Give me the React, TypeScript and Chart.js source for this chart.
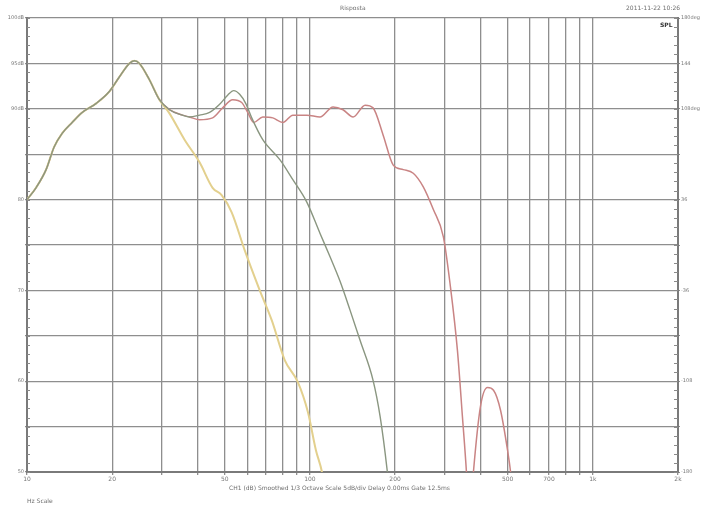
import React, { useEffect, useRef } from "react";
import { Chart, registerables } from "chart.js";

Chart.register(...registerables);

// Shared low-frequency part of all three responses
const lowFreq = [10.0, 10.76, 11.68, 12.47, 13.31, 14.44, 15.67, 17.57, 19.54, 21.2, 23.0, 23.96, 24.96, 27.08, 29.38];
const lowDb = [80.0, 81.3, 83.3, 85.8, 87.3, 88.5, 89.6, 90.6, 91.9, 93.5, 95.0, 95.3, 95.0, 93.2, 91.0];

// Yellow response (lowest cut-off)
const yellowFreq = [31.88, 36.05, 40.74, 45.29, 48.75, 52.9, 58.84, 66.48, 73.33, 81.53, 90.66, 98.37, 105.0, 110.3, 113.0];
const yellowDb = [89.5, 86.6, 84.1, 81.3, 80.5, 78.6, 74.4, 70.0, 66.7, 62.3, 59.9, 56.6, 52.4, 50.0, 48.0];

// Part shared by green and red
const midFreq = [31.88, 35.45, 37.54];
const midDb = [89.9, 89.3, 89.1];

// Green response
const greenFreq = [40.74, 44.2, 47.97, 51.2, 53.78, 56.46, 59.29, 62.27, 68.13, 78.29, 87.03, 97.59, 108.5, 117.8, 127.8, 138.7, 150.4, 167.2, 177.1, 187.5, 192.0];
const greenDb = [89.3, 89.6, 90.5, 91.5, 92.0, 91.6, 90.6, 89.0, 86.6, 84.4, 82.2, 79.7, 76.3, 73.7, 71.0, 67.8, 64.5, 60.1, 56.1, 50.2, 47.0];

// Red response (widest)
const redFreq = [40.74, 45.29, 49.15, 53.33, 57.39, 60.26, 63.28, 68.13, 73.93, 80.23, 87.03, 97.59, 108.5, 120.7, 130.9, 142.1, 156.7, 167.2, 181.5, 197.0, 213.7, 231.9, 251.6, 273.1, 296.3, 313.8, 332.2, 346.0, 357.5, 366.3, 378.4, 400.6, 424.3, 445.6, 471.8, 499.5, 512.0, 522.0];
const redDb = [88.8, 89.0, 90.1, 91.0, 90.7, 89.6, 88.5, 89.1, 89.0, 88.5, 89.3, 89.3, 89.1, 90.2, 89.9, 89.1, 90.4, 90.1, 87.1, 83.8, 83.3, 82.9, 81.4, 78.9, 75.9, 70.4, 63.4, 56.1, 50.0, 44.0, 50.0, 57.2, 59.3, 59.0, 56.8, 52.4, 50.0, 47.0];

// Axis ticks
const xGridTicks = [10, 20, 30, 40, 50, 60, 70, 80, 90, 100, 200, 300, 400, 500, 600, 700, 800, 900, 1000, 2000];
const xLabels: Record<number, string> = { 10: "10", 20: "20", 50: "50", 100: "100", 200: "200", 500: "500", 700: "700", 1000: "1k", 2000: "2k" };
const yLeftLabels: Record<number, string> = { 100: "100dB", 95: "95dB", 90: "90dB", 80: "80", 70: "70", 60: "60", 50: "50" };
const yRightLabels: Record<number, string> = { 180: "180deg", 144: "144", 108: "108deg", 36: "36", [-36]: "-36", [-108]: "-108", [-180]: "-180" };

const toPts = (f: number[], d: number[]) => f.map((v, i) => ({ x: v, y: d[i] }));

const FONT = "'DejaVu Sans', sans-serif";

const minorTicks = {
  id: "minorTicks",
  afterDraw(chart: any) {
    const { ctx, chartArea, scales } = chart;
    const y = scales.y;
    ctx.save();
    ctx.strokeStyle = "#8a8a8a";
    ctx.lineWidth = 1;
    for (let v = 50; v <= 100; v += 1) {
      const py = Math.round(y.getPixelForValue(v)) + 0.5;
      ctx.beginPath();
      ctx.moveTo(chartArea.left, py);
      ctx.lineTo(chartArea.left + 3, py);
      ctx.moveTo(chartArea.right - 4, py);
      ctx.lineTo(chartArea.right, py);
      ctx.stroke();
    }
    ctx.restore();
  },
};

export default function App() {
  const ref = useRef<HTMLCanvasElement | null>(null);
  useEffect(() => {
    if (!ref.current) return;
    const gridColor = "#8e8e8e";
    // In Chart.js the first dataset is drawn on top
    const chart = new Chart(ref.current, {
      type: "line",
      data: {
        datasets: [
          {
            label: "green",
            data: toPts([...lowFreq, ...midFreq, ...greenFreq], [...lowDb, ...midDb, ...greenDb]),
            borderColor: "#8a9680",
            borderWidth: 1.4,
          },
          {
            label: "yellow",
            data: toPts([...lowFreq, ...yellowFreq], [...lowDb, ...yellowDb]),
            borderColor: "#e3d08e",
            borderWidth: 2,
          },
          {
            label: "red",
            data: toPts([...lowFreq, ...midFreq, ...redFreq], [...lowDb, ...midDb, ...redDb]),
            borderColor: "#c98484",
            borderWidth: 1.5,
          },
        ],
      },
      options: {
        animation: false,
        responsive: false,
        devicePixelRatio: 1,
        layout: { padding: { top: 18, left: 0, right: 0, bottom: 0 } },
        elements: {
          point: { radius: 0 },
          line: { cubicInterpolationMode: "monotone", fill: false },
        },
        datasets: { line: { clip: 0 } as any },
        plugins: { legend: { display: false }, tooltip: { enabled: false }, title: { display: false } },
        scales: {
          x: {
            type: "logarithmic",
            min: 10,
            max: 2000,
            afterBuildTicks: (s: any) => {
              s.ticks = xGridTicks.map((v) => ({ value: v }));
            },
            afterFit: (s: any) => {
              s.height = 36;
            },
            ticks: {
              autoSkip: false,
              maxRotation: 0,
              padding: 1,
              color: "#777",
              font: { family: FONT, size: 6 },
              callback: (v: any) => xLabels[Number(v)] ?? "",
            },
            grid: { color: gridColor, lineWidth: 1.3, tickLength: 3 },
            border: { color: "#7a7a7a", width: 2 },
          },
          y: {
            type: "linear",
            position: "left",
            min: 50,
            max: 100,
            afterBuildTicks: (s: any) => {
              const t = [];
              for (let v = 50; v <= 100; v += 5) t.push({ value: v });
              s.ticks = t;
            },
            afterFit: (s: any) => {
              s.width = 27;
            },
            ticks: {
              autoSkip: false,
              padding: 1,
              color: "#777",
              font: { family: FONT, size: 5 },
              callback: (v: any) => yLeftLabels[Number(v)] ?? "",
            },
            grid: { color: gridColor, lineWidth: 1.3, tickLength: 2 },
            border: { color: "#7a7a7a", width: 2 },
          },
          y2: {
            type: "linear",
            position: "right",
            min: -180,
            max: 180,
            afterBuildTicks: (s: any) => {
              const t = [];
              for (let v = -180; v <= 180; v += 36) t.push({ value: v });
              s.ticks = t;
            },
            afterFit: (s: any) => {
              s.width = 27;
            },
            ticks: {
              autoSkip: false,
              padding: 1,
              color: "#777",
              font: { family: FONT, size: 5 },
              callback: (v: any) => yRightLabels[Number(v)] ?? "",
            },
            grid: { drawOnChartArea: false, color: gridColor, tickLength: 2 },
            border: { color: "#7a7a7a", width: 2 },
          },
        },
      },
      plugins: [minorTicks],
    } as any);
    return () => chart.destroy();
  }, []);

  const txt = (s: React.CSSProperties): React.CSSProperties => ({
    position: "absolute",
    fontFamily: FONT,
    fontSize: 6,
    color: "#6e6e6e",
    whiteSpace: "nowrap",
    lineHeight: "7px",
    ...s,
  });

  return (
    <div style={{ position: "fixed", left: 0, top: 0, width: 705, height: 508, background: "#fff" }}>
      <canvas ref={ref} width={705} height={508} style={{ width: 705, height: 508, display: "block" }} />
      <div style={txt({ left: 340, top: 4 })}>Risposta</div>
      <div style={txt({ left: 626, top: 4 })}>2011-11-22 10:26</div>
      <div style={txt({ left: 660, top: 21, fontWeight: "bold", color: "#333", fontSize: 6 })}>SPL</div>
      <div style={txt({ left: 229, top: 484 })}>CH1 (dB)  Smoothed 1/3 Octave  Scale 5dB/div  Delay 0.00ms  Gate 12.5ms</div>
      <div style={txt({ left: 27, top: 497 })}>Hz Scale</div>
    </div>
  );
}
